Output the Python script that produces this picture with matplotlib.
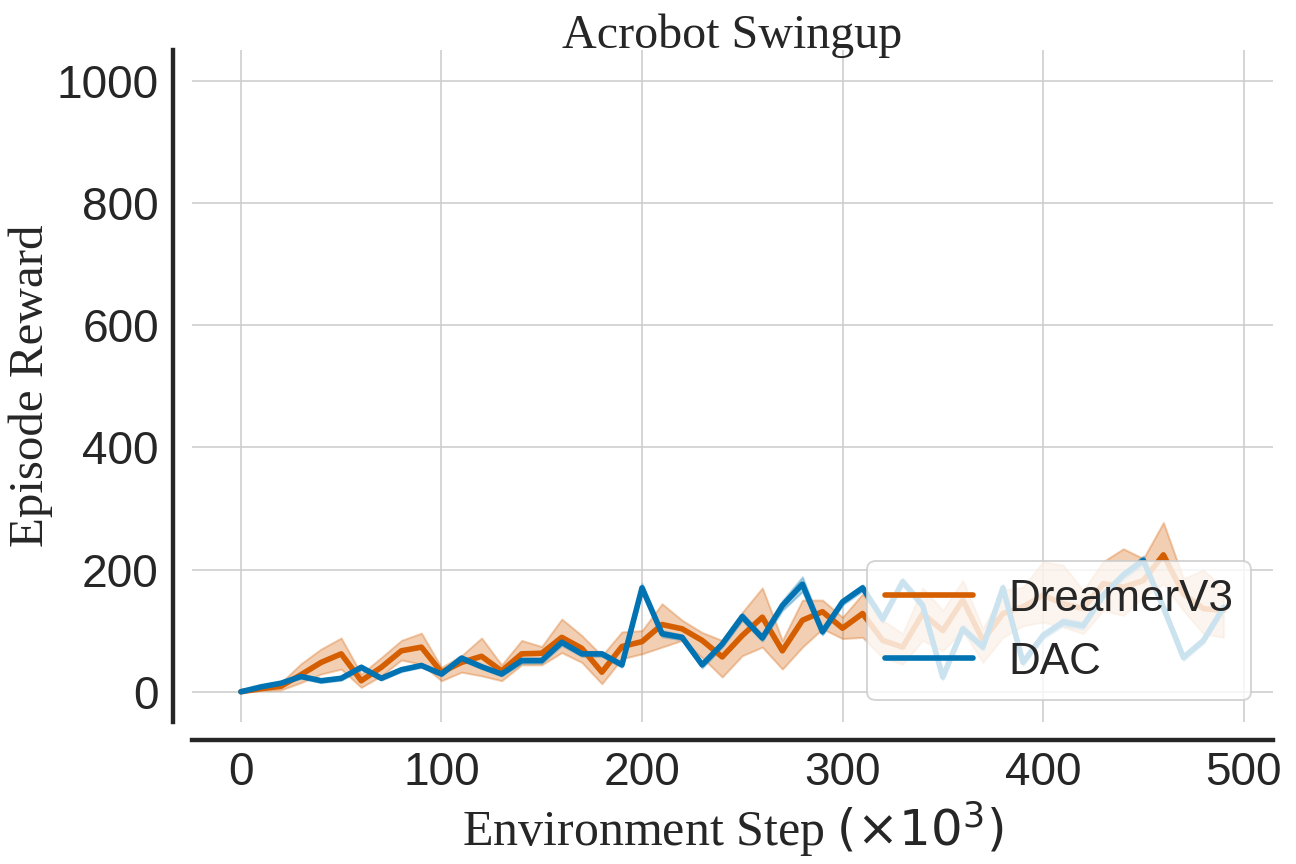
import numpy as np
import matplotlib
matplotlib.use("Agg")
import matplotlib.pyplot as plt
import seaborn as sns

# environment steps (x10^3)
steps = list(range(0, 500, 10))

# DreamerV3 mean and shaded band
dreamer_mean = [0, 5, 9, 28, 48, 62, 18, 40, 67, 73,
                32, 48, 58, 34, 62, 63, 89, 71, 32, 74,
                82, 110, 103, 84, 57, 92, 122, 67, 117, 131,
                104, 128, 84, 73, 128, 100, 150, 84, 128, 139,
                158, 144, 136, 177, 171, 182, 224, 160, 136, 133]
dreamer_lo = [0, 2, 3, 15, 29, 37, 7, 26, 52, 45,
              18, 32, 26, 18, 44, 44, 64, 48, 13, 54,
              62, 73, 84, 56, 24, 59, 73, 37, 73, 103,
              87, 89, 56, 45, 84, 67, 100, 48, 89, 108,
              114, 106, 95, 133, 125, 155, 177, 133, 95, 89]
dreamer_hi = [0, 8, 15, 46, 70, 88, 29, 56, 84, 96,
              40, 59, 88, 44, 84, 74, 119, 92, 59, 98,
              100, 144, 117, 97, 84, 130, 170, 84, 150, 150,
              122, 160, 117, 95, 170, 133, 182, 103, 166, 171,
              213, 207, 166, 213, 234, 218, 277, 185, 199, 169]

# DAC mean and shaded band
dac_mean = [0, 8, 14, 25, 18, 22, 40, 22, 36, 43,
            29, 55, 41, 29, 51, 51, 81, 62, 62, 44,
            170, 95, 89, 44, 78, 123, 88, 141, 176, 98,
            147, 170, 119, 180, 141, 24, 103, 73, 170, 48,
            92, 114, 108, 158, 191, 215, 138, 56, 84, 138]
dac_lo = [0, 6, 12, 22, 15, 19, 36, 19, 33, 40,
          26, 51, 38, 26, 47, 47, 76, 58, 58, 40,
          163, 90, 85, 39, 73, 117, 83, 133, 164, 93,
          142, 165, 113, 174, 135, 19, 97, 68, 164, 43,
          86, 108, 102, 152, 185, 208, 132, 51, 79, 132]
dac_hi = [0, 10, 16, 28, 21, 25, 44, 25, 39, 46,
          32, 59, 44, 32, 55, 55, 86, 66, 66, 48,
          177, 100, 93, 49, 83, 129, 93, 149, 188, 103,
          152, 175, 125, 186, 147, 29, 109, 78, 176, 53,
          98, 120, 114, 164, 197, 222, 144, 61, 89, 144]

sns.set_style("whitegrid")
plt.rcParams["font.family"] = ["Liberation Sans", "DejaVu Sans"]
plt.rcParams["mathtext.fontset"] = "dejavusans"

orange = "#D55E00"
blue = "#0173B2"

fig, ax = plt.subplots(figsize=(9, 6), dpi=144)
fig.subplots_adjust(left=0.148, right=0.982, top=0.942, bottom=0.164)

ax.fill_between(steps, dreamer_lo, dreamer_hi, color=orange, alpha=0.3, linewidth=1)
ax.plot(steps, dreamer_mean, color=orange, lw=2.8, label="DreamerV3")
ax.fill_between(steps, dac_lo, dac_hi, color=blue, alpha=0.3, linewidth=1)
ax.plot(steps, dac_mean, color=blue, lw=2.8, label="DAC")

ax.set_ylim(-50, 1050)
ax.set_yticks([0, 200, 400, 600, 800, 1000])
ax.set_xticks([0, 100, 200, 300, 400, 500])
ax.tick_params(labelsize=23, colors="#262626")
ax.tick_params(axis="x", pad=2)

serif = ["Liberation Serif", "DejaVu Serif"]
ax.set_title("Acrobot Swingup", fontsize=24, family=serif, color="#262626", pad=1)
ax.set_ylabel("Episode Reward", fontsize=24.5, family=serif, color="#262626",
              labelpad=2)
ax.set_xlabel(r"Environment Step $(\times 10^3)$", fontsize=25, family=serif,
              color="#262626", labelpad=2)

for side in ["top", "right"]:
    ax.spines[side].set_visible(False)
ax.spines["left"].set_position(("outward", 9.5))
ax.spines["bottom"].set_position(("outward", 9))
for side in ["left", "bottom"]:
    ax.spines[side].set_linewidth(2.2)
    ax.spines[side].set_color("#262626")

ax.legend(loc="lower right", fontsize=22)

fig.savefig("out.png", dpi=144)
